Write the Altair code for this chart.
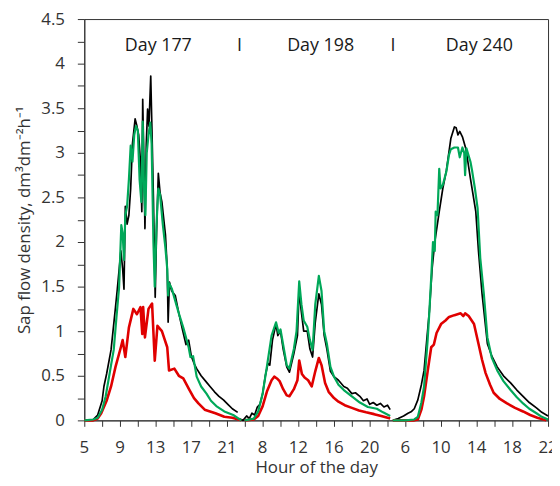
import altair as alt
import pandas as pd

# ---------------- data (hour of day, sap flow density) ----------------
d177_black_h = [5.0, 6.0, 6.5, 7.0, 7.2, 7.5, 8.0, 8.5, 8.7, 9.1, 9.3, 9.45, 9.6, 9.8, 10.0, 10.2, 10.4, 10.7, 10.9, 11.1, 11.3, 11.45, 11.55, 11.7, 11.8, 11.95, 12.1, 12.25, 12.45, 12.6, 12.75, 12.95, 13.1, 13.3, 13.5, 13.7, 14.1, 14.3, 14.4, 14.55, 14.8, 15.2, 15.6, 16.0, 16.4, 16.7, 17.0, 17.3, 17.6, 18.1, 18.6, 19.1, 19.6, 20.1, 20.6, 21.1, 21.6, 22.2]
d177_black_v = [0.0, 0.01, 0.06, 0.22, 0.38, 0.52, 0.79, 1.27, 1.47, 1.9, 1.7, 1.47, 2.4, 2.2, 2.3, 2.6, 3.1, 3.38, 3.3, 3.2, 2.9, 2.34, 3.6, 2.8, 2.15, 3.1, 3.49, 3.3, 3.86, 3.2, 2.5, 1.38, 2.1, 2.77, 2.55, 2.45, 2.08, 1.7, 1.1, 1.55, 1.45, 1.4, 1.2, 1.02, 0.85, 0.9, 0.72, 0.64, 0.58, 0.5, 0.44, 0.38, 0.32, 0.27, 0.23, 0.18, 0.13, 0.09]

d177_green_h = [5.0, 6.0, 6.5, 7.0, 7.4, 8.0, 8.3, 8.6, 8.9, 9.15, 9.3, 9.45, 9.6, 9.8, 10.0, 10.2, 10.4, 10.6, 10.8, 11.0, 11.2, 11.4, 11.55, 11.7, 11.85, 12.0, 12.2, 12.4, 12.55, 12.75, 12.9, 13.1, 13.3, 13.5, 13.8, 14.1, 14.3, 14.4, 14.5, 14.8, 15.2, 15.6, 16.1, 16.7, 16.9, 17.2, 17.6, 18.1, 18.7, 19.2, 19.8, 20.7, 21.7, 22.6]
d177_green_v = [0.0, 0.01, 0.03, 0.12, 0.27, 0.62, 0.79, 1.15, 1.49, 2.19, 2.1, 1.8, 2.3, 2.4, 2.7, 3.08, 2.9, 3.2, 3.3, 3.25, 2.7, 2.45, 3.35, 2.6, 2.3, 3.0, 3.2, 3.34, 3.1, 2.0, 1.5, 2.2, 2.6, 2.53, 2.2, 1.93, 1.7, 1.4, 1.54, 1.48, 1.34, 1.2, 1.04, 0.82, 0.71, 0.72, 0.49, 0.38, 0.3, 0.22, 0.16, 0.1, 0.06, 0.0]

d177_red_h = [5.0, 6.0, 6.5, 6.9, 7.5, 8.0, 8.5, 9.1, 9.3, 9.6, 10.0, 10.5, 10.9, 11.3, 11.5, 11.6, 11.8, 12.2, 12.6, 12.9, 13.2, 13.7, 14.3, 14.5, 15.1, 15.6, 16.1, 16.8, 17.3, 17.8, 18.5, 19.7, 20.7, 21.6, 22.6]
d177_red_v = [0.0, 0.0, 0.02, 0.08, 0.22, 0.38, 0.6, 0.82, 0.9, 0.71, 1.04, 1.25, 1.19, 1.27, 0.97, 1.27, 0.93, 1.25, 1.31, 0.67, 1.06, 1.0, 0.82, 0.56, 0.58, 0.5, 0.47, 0.34, 0.25, 0.19, 0.12, 0.08, 0.04, 0.03, 0.0]

d198_black_h = [5.3, 5.8, 6.2, 6.5, 6.8, 7.1, 7.4, 7.7, 8.0, 8.3, 8.6, 8.8, 9.1, 9.5, 9.7, 10.0, 10.3, 10.7, 11.0, 11.5, 11.9, 12.1, 12.3, 12.6, 13.0, 13.3, 13.6, 13.9, 14.3, 14.6, 14.9, 15.2, 15.6, 16.0, 16.5, 17.1, 17.5, 18.0, 18.4, 18.9, 19.3, 19.7, 20.0, 20.4, 20.8, 21.2, 21.6, 22.0, 22.3]
d198_black_v = [0.02, 0.0, 0.05, 0.02, 0.08, 0.06, 0.15, 0.18, 0.3, 0.5, 0.64, 0.62, 0.9, 1.08, 0.95, 1.0, 0.8, 0.6, 0.54, 0.75, 0.95, 1.48, 1.25, 1.0, 1.0, 0.8, 0.71, 1.1, 1.42, 1.3, 0.95, 0.8, 0.55, 0.49, 0.45, 0.38, 0.36, 0.3, 0.31, 0.27, 0.22, 0.24, 0.18, 0.2, 0.17, 0.19, 0.15, 0.17, 0.12]

d198_green_h = [6.0, 7.0, 7.5, 8.0, 8.5, 9.0, 9.5, 9.8, 10.0, 10.3, 10.7, 11.0, 11.5, 11.8, 12.1, 12.35, 12.6, 13.0, 13.3, 13.6, 13.9, 14.3, 14.6, 14.9, 15.2, 15.6, 16.0, 16.5, 17.1, 18.0, 18.9, 19.8, 20.8, 21.5, 22.3]
d198_green_v = [0.0, 0.02, 0.1, 0.3, 0.62, 0.95, 1.1, 0.98, 1.02, 0.85, 0.62, 0.58, 0.8, 1.0, 1.56, 1.3, 1.12, 1.05, 0.9, 0.79, 1.3, 1.62, 1.45, 1.0, 0.86, 0.6, 0.49, 0.4, 0.34, 0.27, 0.2, 0.15, 0.13, 0.09, 0.05]

d198_red_h = [6.0, 7.0, 7.5, 8.0, 8.5, 9.0, 9.3, 9.6, 9.9, 10.3, 10.7, 11.0, 11.5, 11.9, 12.1, 12.4, 12.7, 13.1, 13.5, 13.9, 14.3, 14.6, 15.0, 15.4, 16.0, 16.5, 17.2, 18.0, 18.8, 19.6, 20.5, 21.3, 22.3]
d198_red_v = [0.0, 0.01, 0.05, 0.16, 0.33, 0.45, 0.49, 0.47, 0.44, 0.35, 0.28, 0.27, 0.35, 0.45, 0.67, 0.52, 0.48, 0.45, 0.38, 0.55, 0.7, 0.62, 0.42, 0.32, 0.25, 0.21, 0.17, 0.14, 0.11, 0.09, 0.07, 0.05, 0.02]

d240_black_h = [4.6, 5.2, 5.8, 6.3, 6.7, 7.0, 7.4, 7.8, 8.1, 8.4, 8.7, 9.0, 9.3, 9.8, 10.2, 10.6, 11.1, 11.5, 11.7, 11.9, 12.1, 12.4, 12.8, 13.3, 13.9, 14.2, 14.6, 15.2, 15.7, 16.3, 17.0, 17.8, 18.5, 19.2, 19.9, 20.7, 21.3, 22.0]
d240_black_v = [0.0, 0.02, 0.05, 0.08, 0.1, 0.13, 0.23, 0.4, 0.56, 0.9, 1.23, 1.7, 2.0, 2.34, 2.6, 2.8, 3.16, 3.29, 3.28, 3.2, 3.24, 3.18, 3.04, 2.71, 2.34, 1.9, 1.42, 0.86, 0.72, 0.6, 0.5, 0.42, 0.34, 0.27, 0.2, 0.14, 0.09, 0.05]

d240_green_h = [4.6, 6.0, 7.0, 7.4, 7.8, 8.1, 8.5, 8.7, 8.9, 9.1, 9.3, 9.4, 9.6, 9.8, 9.95, 10.2, 10.6, 10.9, 11.1, 11.5, 11.9, 12.1, 12.4, 12.6, 12.7, 12.85, 13.0, 13.3, 13.5, 13.8, 14.1, 14.4, 14.8, 15.2, 15.7, 16.3, 17.0, 17.8, 18.5, 19.2, 19.9, 20.7, 21.3, 22.0]
d240_green_v = [0.0, 0.0, 0.01, 0.04, 0.2, 0.38, 0.9, 1.23, 1.6, 2.0, 1.9, 2.34, 2.3, 2.82, 2.6, 2.64, 2.79, 2.98, 3.04, 3.06, 3.06, 2.95, 3.06, 3.0, 2.75, 3.05, 3.0, 2.9, 2.79, 2.6, 2.38, 1.82, 1.42, 0.93, 0.7, 0.56, 0.44, 0.34, 0.26, 0.19, 0.13, 0.08, 0.04, 0.01]

d240_red_h = [4.6, 7.0, 7.4, 7.8, 8.1, 8.5, 8.9, 9.2, 9.5, 10.0, 10.5, 10.9, 11.5, 12.2, 12.5, 12.7, 13.1, 13.7, 14.2, 14.6, 15.0, 15.5, 15.9, 16.6, 17.4, 18.3, 19.2, 20.0, 20.8, 21.8]
d240_red_v = [0.0, 0.0, 0.01, 0.12, 0.27, 0.55, 0.82, 0.85, 0.98, 1.08, 1.12, 1.16, 1.18, 1.2, 1.17, 1.2, 1.17, 1.08, 0.86, 0.68, 0.53, 0.4, 0.31, 0.24, 0.19, 0.14, 0.1, 0.06, 0.03, 0.0]

x_tick_labels = ["5", "9", "13", "17", "21", "8", "12", "16", "20", "6", "10", "14", "18", "22"]
day_labels = ["Day 177", "I", "Day 198", "I", "Day 240"]

# hour offset of each day on the shared axis
day_offset = {"177": -5, "198": 12, "240": 30}

series = [
    ("177", "black", d177_black_h, d177_black_v),
    ("177", "green", d177_green_h, d177_green_v),
    ("177", "red", d177_red_h, d177_red_v),
    ("198", "black", d198_black_h, d198_black_v),
    ("198", "green", d198_green_h, d198_green_v),
    ("198", "red", d198_red_h, d198_red_v),
    ("240", "black", d240_black_h, d240_black_v),
    ("240", "green", d240_green_h, d240_green_v),
    ("240", "red", d240_red_h, d240_red_v),
]
rows = []
for day, s, hs, vs in series:
    for i, (h, v) in enumerate(zip(hs, vs)):
        rows.append({"day": day, "series": s, "pos": h + day_offset[day], "v": v, "i": i})
df = pd.DataFrame(rows)

FONT = "Open Sans"
TXT = "#333333"
W, H = 468, 405

x_enc = alt.X(
    "pos:Q",
    scale=alt.Scale(domain=[0, 52], nice=False, zero=False),
    axis=alt.Axis(
        values=list(range(0, 53, 2)),
        labels=False,
        title="Hour of the day",
        grid=False,
        tickSize=6,
        titleY=53,
        titleBaseline="alphabetic",
    ),
)
y_enc = alt.Y(
    "v:Q",
    scale=alt.Scale(domain=[0, 4.5], nice=False),
    axis=alt.Axis(
        values=[k * 0.25 for k in range(19)],
        labelExpr="datum.value % 0.5 == 0 ? '' + datum.value : ''",
        title="Sap flow density, dm³dm⁻²h⁻¹",
        grid=False,
        tickSize=7,
        labelPadding=13,
        labelOverlap=False,
        titleX=-60,
        titleY=H / 2,
        titleAngle=270,
        titleAlign="center",
        titleBaseline="middle",
    ),
)

def line(s, color, width):
    return alt.Chart(df[df.series == s]).mark_line(
        color=color, strokeWidth=width, strokeJoin="round"
    ).encode(x=x_enc, y=y_enc, detail="day:N", order="i:Q")

# labels of the x axis (every 4 hours, restarting for each day)
xlab_df = pd.DataFrame({"pos": [4 * k for k in range(len(x_tick_labels))],
                        "text": x_tick_labels})
xlabels = alt.Chart(xlab_df).mark_text(
    font=FONT, fontSize=17, color=TXT, baseline="top", align="center"
).encode(x=x_enc, y=alt.value(H + 20), text="text:N")

lab_df = pd.DataFrame({
    "text": day_labels,
    "pos": [8.3, 17.4, 26.5, 34.6, 44.3],
    "v": [4.2] * 5,
})
labels = alt.Chart(lab_df).mark_text(
    font=FONT, fontSize=18, color="#1a1a1a", baseline="middle", align="center"
).encode(x=x_enc, y=y_enc, text="text:N")

chart = alt.layer(
    line("black", "#000000", 1.7),
    line("red", "#E00000", 2.6),
    line("green", "#00A859", 2.2),
    labels,
    xlabels,
).properties(
    width=W,
    height=H,
    autosize=alt.AutoSizeParams(type="none"),
    padding={"left": 77, "top": 9, "right": 4, "bottom": 56},
).configure_view(
    stroke="#333333", strokeWidth=1, clip=False
).configure_axis(
    domainColor="#333333",
    tickColor="#333333",
    labelFont=FONT,
    labelFontSize=17,
    labelColor=TXT,
    titleFont=FONT,
    titleFontSize=17,
    titleFontWeight="normal",
    titleColor=TXT,
)

chart.save("out.html", embed_options={"renderer": "svg", "actions": False})
